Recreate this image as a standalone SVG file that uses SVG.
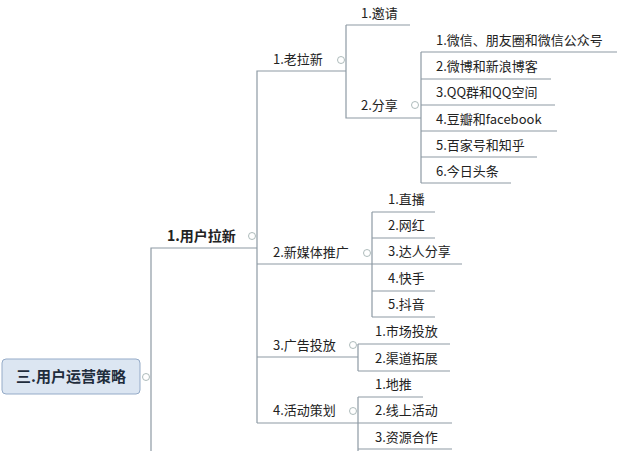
<svg xmlns="http://www.w3.org/2000/svg" width="640" height="451" viewBox="0 0 640 451">
<style>
.l{stroke:#8e9aa4;stroke-width:1.2;fill:none}
.t{font-family:"Noto Sans CJK SC","Noto Sans",sans-serif;font-size:13px;fill:#222}
.c{fill:#fff;stroke:#9aa;stroke-width:0.8}
</style>
<rect width="640" height="451" fill="#fff"/>
<g id="connectors" class="l">
<path d="M151,451V248H257"/>
<path d="M257,423V71H346"/>
<path d="M257,264H372M257,357H358M257,423H358"/>
<path d="M346,25V118H421M346,25H410"/>
<path d="M421,52V183M421,52H617M421,79H551M421,105H555M421,131H557M421,157H537M421,183H511"/>
<path d="M372,212V317M372,212H435M372,238H435M372,264H462M372,291H435M372,317H435"/>
<path d="M358,344V371M358,344H450M358,371H450"/>
<path d="M358,397V451M358,397H423M358,423H452M358,449H452"/>
</g>
<g id="root">
<rect x="2" y="359" width="138" height="35" rx="4" fill="#dce6f2" stroke="#95abc8"/>
<text x="71" y="382" text-anchor="middle" class="t" style="font-size:15px;font-weight:bold;fill:#1f2d3d">三.用户运营策略</text>
<circle class="c" cx="146" cy="377" r="3.5"/>
</g>
<g id="n1"><text x="167" y="241" class="t" style="font-size:14px;font-weight:bold">1.用户拉新</text><circle class="c" cx="252" cy="236" r="3.5"/></g>
<g id="n11"><text x="273" y="64" class="t">1.老拉新</text><circle class="c" cx="341" cy="60" r="3.5"/></g>
<g id="n111"><text x="361" y="18" class="t">1.邀请</text></g>
<g id="n112"><text x="361" y="110" class="t">2.分享</text><circle class="c" cx="415" cy="105" r="3.5"/></g>
<g id="s1"><text x="436" y="45" class="t">1.微信、朋友圈和微信公众号</text></g>
<g id="s2"><text x="436" y="71" class="t">2.微博和新浪博客</text></g>
<g id="s3"><text x="436" y="97" class="t">3.QQ群和QQ空间</text></g>
<g id="s4"><text x="436" y="124" class="t">4.豆瓣和facebook</text></g>
<g id="s5"><text x="436" y="150" class="t">5.百家号和知乎</text></g>
<g id="s6"><text x="436" y="176" class="t">6.今日头条</text></g>
<g id="n12"><text x="273" y="257" class="t">2.新媒体推广</text><circle class="c" cx="367" cy="253" r="3.5"/></g>
<g id="m1"><text x="388" y="204" class="t">1.直播</text></g>
<g id="m2"><text x="388" y="230" class="t">2.网红</text></g>
<g id="m3"><text x="388" y="256" class="t">3.达人分享</text></g>
<g id="m4"><text x="388" y="283" class="t">4.快手</text></g>
<g id="m5"><text x="388" y="309" class="t">5.抖音</text></g>
<g id="n13"><text x="273" y="350" class="t">3.广告投放</text><circle class="c" cx="353" cy="345" r="3.5"/></g>
<g id="a1"><text x="375" y="336" class="t">1.市场投放</text></g>
<g id="a2"><text x="375" y="363" class="t">2.渠道拓展</text></g>
<g id="n14"><text x="273" y="415" class="t">4.活动策划</text><circle class="c" cx="353" cy="411" r="3.5"/></g>
<g id="h1"><text x="375" y="389" class="t">1.地推</text></g>
<g id="h2"><text x="375" y="415" class="t">2.线上活动</text></g>
<g id="h3"><text x="375" y="442" class="t">3.资源合作</text></g>
</svg>
